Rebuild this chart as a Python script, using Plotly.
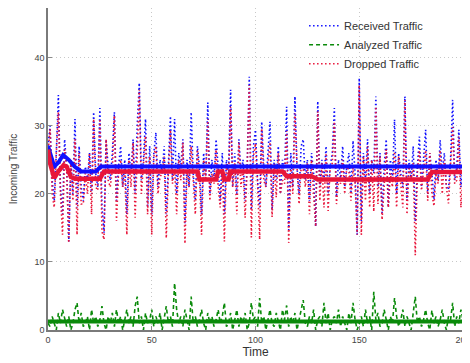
import plotly.graph_objects as go

time = list(range(0, 201))

received = [
    27, 30, 22, 19, 26, 34.5, 21, 17, 28, 24,
    13, 25, 20, 31, 18, 27, 21, 19, 24, 22,
    26, 20, 32, 23, 21, 32.6, 18, 14.3, 28, 24,
    22, 26, 32, 19, 24, 27, 21, 25, 17, 26,
    23, 28, 20, 30, 36.3, 22, 25, 31, 18, 27,
    17, 26, 29, 21, 25, 23, 27, 17, 24, 31.4,
    22, 31, 20, 26, 24, 28, 15.7, 25, 21, 32,
    23, 19, 27, 24, 17, 26, 22, 33.4, 20, 25,
    22, 28, 24, 19, 26, 17, 25, 23, 35.3, 21,
    26, 20, 28, 23, 25, 19, 24, 37.2, 17.6, 27,
    29.4, 22, 18, 30.6, 24, 21, 26, 30.6, 17.6, 25,
    22, 27, 20, 25, 23, 32.8, 14.7, 26, 21, 34.3,
    24, 20, 27, 28, 22, 25, 19, 26, 23, 15.2,
    33.6, 21, 25, 22, 27, 20, 24, 26, 32.6, 19.5,
    25, 22, 27, 21, 24, 26, 20, 27.8, 23, 14,
    37, 16, 26, 22, 28, 20, 25, 23, 34.3, 21,
    26, 17.2, 24, 28, 18, 25, 22, 30.9, 20, 26,
    23, 21, 34.3, 19, 25, 22, 27, 15.9, 24, 28.4,
    21, 25, 29.4, 20, 26, 23, 19.2, 25, 22, 27.9,
    23, 26, 21, 20.6, 25, 33.8, 22, 24, 29.4, 21,
    24,
]

analyzed = [
    1, 0.5, 2, 1, 0, 2.5, 1, 3, 1.5, 0.5,
    2, 0, 1, 3, 4, 1, 2.5, 0.5, 1, 2,
    0, 3, 1, 2, 0.5, 1.5, 3.5, 1, 0, 2,
    1, 2.5, 0.5, 3, 1, 2, 0, 1.5, 3, 1,
    2, 0.5, 3.5, 4.9, 1, 2, 0, 2.5, 1, 1.5,
    3, 0.5, 2, 1, 2.5, 0, 1.5, 3.5, 1, 2,
    0.5, 6.9, 3, 1, 2, 0.5, 3, 1.5, 0, 4.9,
    1, 2, 0.5, 1.5, 3, 1, 0, 2.5, 1, 2,
    0.5, 1.5, 3, 1, 2, 4, 0.5, 1, 2.5, 0,
    1.5, 3, 0.5, 2, 1, 2.5, 0, 1, 4, 1.5,
    2, 0.5, 4.7, 1, 2, 0, 1.5, 3, 1, 0.5,
    2.5, 1, 0, 3, 1.5, 3.6, 0.5, 2, 1, 2.5,
    0, 1.5, 3, 4.4, 1, 0.5, 2, 1, 3, 0,
    1.5, 2, 0.5, 4, 1, 2.5, 0, 1.5, 2, 1,
    3, 0.5, 2, 1, 0, 2.5, 1, 4, 1.5, 0,
    1, 2, 0.5, 3, 1, 2, 0, 5.6, 1.5, 2.5,
    0.5, 1, 3, 1.5, 0, 2, 1, 4.7, 2, 0.5,
    1.5, 3, 0.5, 2, 1, 0, 2.5, 4.9, 1, 2,
    0.5, 1.5, 3, 1, 0, 2.9, 1, 2, 0.5, 1.5,
    3, 1, 0, 2, 1.5, 4, 0.5, 2, 1, 3,
    1.5,
]

dropped = [
    26, 29.5, 20, 18, 26, 32, 20, 14, 26.5, 23.5,
    12.8, 25, 19, 28, 14, 26, 18.5, 18.5, 23, 20,
    26, 17, 31, 21, 20.5, 31, 14.5, 13.3, 28, 22,
    21, 23.5, 31.5, 16, 23, 25, 21, 23.5, 14, 25,
    21, 27.5, 16.5, 25, 35.3, 20, 25, 28.5, 17, 25.5,
    14, 25.5, 27, 20, 22.5, 23, 25.5, 13.5, 23, 29.4,
    21.5, 24, 17, 25, 22, 27.5, 12.7, 23.5, 21, 27,
    22, 17, 26.5, 22.5, 14, 25, 22, 31, 19, 23,
    21.5, 26.5, 21, 18, 24, 13, 24.5, 22, 32.8, 21,
    24.5, 17, 27.5, 21, 24, 16.5, 24, 36, 13.6, 25.5,
    27.4, 21.5, 13.3, 29.6, 22, 21, 24.5, 27.6, 16.6, 24.5,
    19.5, 26, 20, 22, 21.5, 29.2, 12.8, 24, 20, 31.8,
    24, 18.5, 24, 23.6, 21, 24.5, 17, 25, 20, 15.2,
    32.1, 19, 24.5, 18, 26, 17.5, 24, 24.5, 30.6, 18.5,
    22, 21.5, 25, 20, 24, 23.5, 19, 23.8, 21.5, 14,
    36, 14, 25.5, 19, 27, 18, 25, 17.4, 32.8, 18.5,
    25.5, 16.2, 21, 26.5, 18, 23, 21, 26.2, 18, 25.5,
    21.5, 18, 33.8, 17, 24, 22, 24.5, 11, 23, 26.4,
    20.5, 23.5, 26.4, 19, 26, 20.1, 18.2, 23, 21.5, 26.4,
    20, 25, 21, 18.6, 23.5, 29.8, 21.5, 22, 28.4, 18,
    22.5,
]

# smoothed (average) curves, as breakpoints
avg_recv_time = [0, 1, 3, 5, 7.3, 10, 12.8, 16, 23, 25.5, 200]
avg_recv_vals = [27, 26, 24, 24.6, 25.7, 25, 24, 23.3, 23.3, 24, 24]

avg_drop_time = [0, 1, 3, 5, 7.5, 9, 11, 13, 25, 27, 72, 73, 81, 82, 84, 85, 87, 88,
                 113, 115, 127, 130, 183, 185, 200]
avg_drop_vals = [26.5, 24.5, 22.3, 23.3, 24.2, 24.0, 22.5, 22.2, 22.2, 23.3, 23.3, 22.1,
                 22.1, 23.3, 23.3, 22.1, 22.1, 23.3, 23.3, 22.6, 22.6, 22.1, 22.1, 23.2, 23.2]

avg_anal_time = [0, 200]
avg_anal_vals = [1.25, 1.25]

series_names = ["Received Traffic", "Analyzed Traffic", "Dropped Traffic"]
x_ticks = [0, 50, 100, 150, 200]
y_ticks = [0, 10, 20, 30, 40]

BLUE = "#1010ff"
GREEN = "#0a8a0a"
RED = "#e8153a"

fig = go.Figure()
fig.add_trace(go.Scatter(x=time, y=received, mode="lines", name=series_names[0],
                         line=dict(color=BLUE, width=1.6, dash="1.5px,2.5px")))
fig.add_trace(go.Scatter(x=time, y=analyzed, mode="lines", name=series_names[1],
                         line=dict(color=GREEN, width=1.6, dash="4px,3px")))
fig.add_trace(go.Scatter(x=time, y=dropped, mode="lines", name=series_names[2],
                         line=dict(color=RED, width=1.6, dash="1.5px,2.5px")))
fig.add_trace(go.Scatter(x=avg_recv_time, y=avg_recv_vals, mode="lines", showlegend=False,
                         line=dict(color=BLUE, width=4)))
fig.add_trace(go.Scatter(x=avg_anal_time, y=avg_anal_vals, mode="lines", showlegend=False,
                         line=dict(color=GREEN, width=4)))
fig.add_trace(go.Scatter(x=avg_drop_time, y=avg_drop_vals, mode="lines", showlegend=False,
                         line=dict(color=RED, width=4.5)))

fig.update_layout(
    width=462, height=355,
    margin=dict(l=40, r=7, t=0, b=33),
    paper_bgcolor="white", plot_bgcolor="white",
    font=dict(family="Liberation Sans, Arial, sans-serif", size=9, color="#444"),
    showlegend=True,
    legend=dict(x=0.617, y=0.99, xanchor="left", yanchor="top",
                bgcolor="rgba(0,0,0,0)", font=dict(size=11, color="#333"),
                tracegroupgap=0, itemwidth=30),
)
fig.update_xaxes(
    range=[0, 200], tickvals=x_ticks, ticktext=[str(v) for v in x_ticks],
    showgrid=True, gridcolor="#c8c8c8", griddash="1px,3px", gridwidth=1,
    zeroline=False, showline=True, linecolor="#7a7a7a", linewidth=1.5, mirror=True,
    ticks="inside", ticklen=4, tickcolor="#8a8a8a", automargin=False,
    ticklabeloverflow="allow",
    title=dict(text="Time", font=dict(size=12, color="#333"), standoff=0),
)
fig.update_yaxes(
    range=[0, 47.3], tickvals=y_ticks, ticktext=[str(v) for v in y_ticks],
    showgrid=True, gridcolor="#c8c8c8", griddash="1px,3px", gridwidth=1,
    zeroline=False, showline=True, linecolor="#7a7a7a", linewidth=1.5, mirror=True,
    ticks="inside", ticklen=4, tickcolor="#8a8a8a", automargin=False,
    title=dict(text="Incoming Traffic", font=dict(size=10, color="#444"), standoff=18),
)

fig.write_html("out.html")
